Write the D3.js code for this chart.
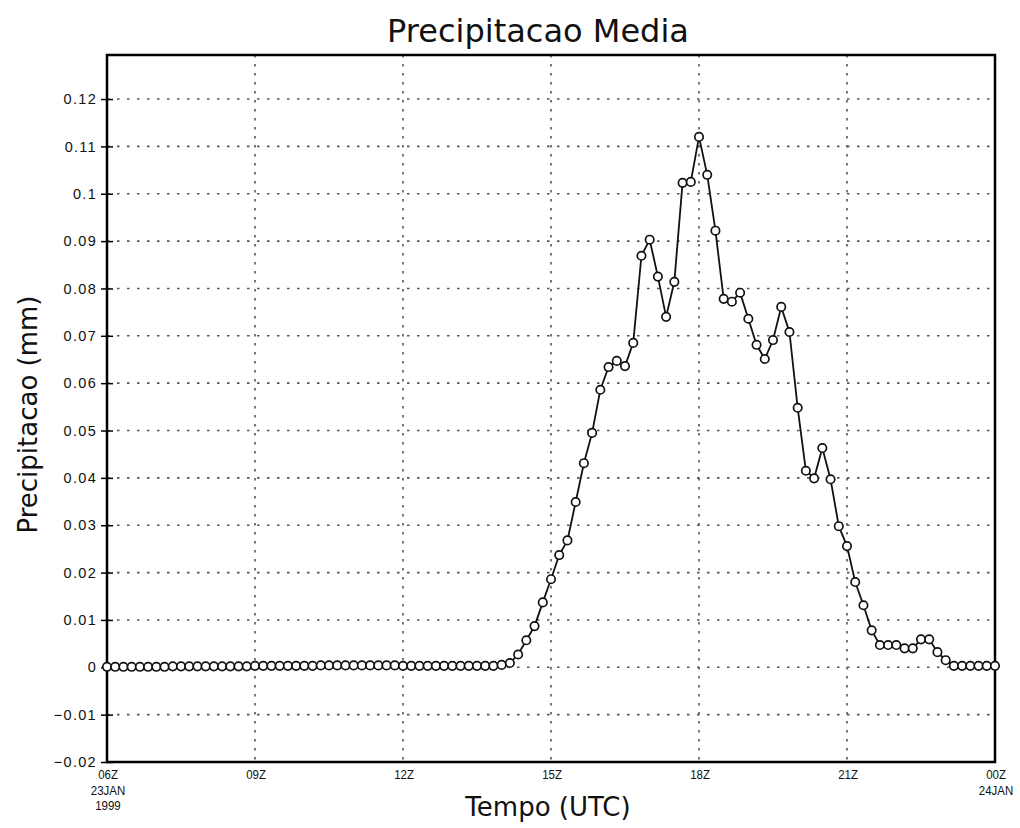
<!DOCTYPE html>
<html>
<head>
<meta charset="utf-8">
<script src="https://cdn.jsdelivr.net/npm/d3@7"></script>
<style>
  html, body { margin: 0; padding: 0; background: #fff; }
  svg { display: block; }
</style>
</head>
<body>
<svg id="chart" width="1020" height="828"></svg>
<script>
// ---- data ----
const startTime = "1999-01-23T06:00:00Z";
const endTime = "1999-01-24T00:00:00Z";
const stepMinutes = 10;
const precip = [
  0.0001, 0.0001, 0.0001, 0.0001, 0.0001, 0.0001, 0.0001, 0.0001, 0.0002, 0.0002,
  0.0002, 0.0002, 0.0002, 0.0002, 0.0002, 0.0002, 0.0002, 0.0002, 0.0003, 0.0003,
  0.0003, 0.0003, 0.0003, 0.0003, 0.0003, 0.0003, 0.0004, 0.0004, 0.0004, 0.0004,
  0.0004, 0.0004, 0.0004, 0.0004, 0.0004, 0.0004, 0.0003, 0.0003, 0.0003, 0.0003,
  0.0003, 0.0003, 0.0003, 0.0003, 0.0003, 0.0003, 0.0003, 0.0003, 0.0005, 0.0009,
  0.0027, 0.0057, 0.0087, 0.0137, 0.0186, 0.0237, 0.0268, 0.0349, 0.0431, 0.0495,
  0.0586, 0.0634, 0.0647, 0.0636, 0.0685, 0.0869, 0.0903, 0.0825, 0.0740, 0.0814,
  0.1023, 0.1025, 0.1120, 0.1040, 0.0922, 0.0778, 0.0772, 0.0791, 0.0736, 0.0681,
  0.0651, 0.0691, 0.0761, 0.0708, 0.0548, 0.0415, 0.0399, 0.0463, 0.0397, 0.0298,
  0.0256, 0.0180, 0.0131, 0.0078, 0.0047, 0.0047, 0.0047, 0.0040, 0.0040, 0.0059,
  0.0059, 0.0032, 0.0015, 0.0003, 0.0003, 0.0003, 0.0003, 0.0003, 0.0003
];
const yTicks = [-0.02, -0.01, 0, 0.01, 0.02, 0.03, 0.04, 0.05, 0.06, 0.07, 0.08, 0.09, 0.1, 0.11, 0.12];
const yTickLabels = ["\u22120.02", "\u22120.01", "0", "0.01", "0.02", "0.03", "0.04", "0.05", "0.06", "0.07", "0.08", "0.09", "0.1", "0.11", "0.12"];
const xTickTimes = ["1999-01-23T06:00:00Z", "1999-01-23T09:00:00Z", "1999-01-23T12:00:00Z",
                    "1999-01-23T15:00:00Z", "1999-01-23T18:00:00Z", "1999-01-23T21:00:00Z",
                    "1999-01-24T00:00:00Z"];
const xTickLabels = [["06Z", "23JAN", "1999"], ["09Z"], ["12Z"], ["15Z"], ["18Z"], ["21Z"], ["00Z", "24JAN"]];
const yDomainMax = 0.1293;
const titleText = "Precipitacao Media";
const xTitle = "Tempo (UTC)";
const yTitle = "Precipitacao (mm)";

// ---- layout ----
const pL = 107, pR = 995, pT = 55, pB = 762;
const svg = d3.select("#chart");
const t0 = new Date(startTime), t1 = new Date(endTime);
const times = d3.utcMinute.every(stepMinutes).range(t0, new Date(+t1 + 1));
const data = precip.map((v, i) => ({ t: times[i], v }));

const x = d3.scaleUtc().domain([t0, t1]).range([pL, pR]);
const y = d3.scaleLinear().domain([-0.02, yDomainMax]).range([pB, pT]);

const tickFont = "'Liberation Sans', Arial, sans-serif";

// grid
const grid = svg.append("g");
grid.selectAll("line.h").data(yTicks.filter(d => d > -0.02)).join("line")
  .attr("x1", pL).attr("x2", pR)
  .attr("y1", d => y(d)).attr("y2", d => y(d))
  .attr("stroke", "#555").attr("stroke-width", 1.6)
  .attr("stroke-dasharray", "2.5,7.5");
grid.selectAll("line.v").data(xTickTimes.slice(1, -1).map(s => new Date(s))).join("line")
  .attr("x1", d => x(d)).attr("x2", d => x(d))
  .attr("y1", pT).attr("y2", pB)
  .attr("stroke", "#555").attr("stroke-width", 1.6)
  .attr("stroke-dasharray", "2.5,6.5");

// y axis
const yAxis = d3.axisLeft(y).tickValues(yTicks)
  .tickFormat((d, i) => yTickLabels[i]).tickSizeInner(6).tickSizeOuter(0).tickPadding(4);
const yg = svg.append("g").attr("transform", `translate(${pL},0)`).call(yAxis);
yg.select(".domain").remove();
yg.selectAll(".tick line").attr("x1", 6).attr("x2", -6).attr("stroke", "#000").attr("stroke-width", 1.5);
yg.selectAll(".tick text").attr("x", -10).attr("font-family", tickFont)
  .attr("font-size", 14.5).attr("letter-spacing", 1.3).attr("fill", "#111");

// x axis labels (tall, condensed)
const xg = svg.append("g");
xTickTimes.forEach((s, i) => {
  const cx = x(new Date(s));
  const lab = xTickLabels[i];
  lab.forEach((txt, k) => {
    xg.append("text")
      .attr("transform", `translate(${cx + 1},${pB + 17 + k * 15.5}) scale(0.85,1)`)
      .attr("text-anchor", "middle")
      .attr("font-family", tickFont)
      .attr("font-size", 13.5).attr("fill", "#111")
      .text(txt);
  });
});

// plot border
svg.append("rect")
  .attr("x", pL).attr("y", pT)
  .attr("width", pR - pL).attr("height", pB - pT)
  .attr("fill", "none").attr("stroke", "#000").attr("stroke-width", 2.5);

// line
svg.append("path").datum(data)
  .attr("fill", "none").attr("stroke", "#111").attr("stroke-width", 1.8)
  .attr("d", d3.line().x(d => x(d.t)).y(d => y(d.v)));

// markers
svg.append("g").selectAll("circle").data(data).join("circle")
  .attr("cx", d => x(d.t)).attr("cy", d => y(d.v)).attr("r", 4.2)
  .attr("fill", "#fff").attr("stroke", "#111").attr("stroke-width", 1.7);

// titles
svg.append("text").attr("x", 538).attr("y", 42).attr("text-anchor", "middle")
  .attr("font-family", "'DejaVu Sans', sans-serif").attr("font-size", 32).attr("fill", "#111")
  .text(titleText);
svg.append("text").attr("x", 548).attr("y", 816).attr("text-anchor", "middle")
  .attr("font-family", "'DejaVu Sans', sans-serif").attr("font-size", 26).attr("fill", "#111")
  .text(xTitle);
svg.append("text").attr("transform", `translate(37,${(pT + pB) / 2 + 6}) rotate(-90)`)
  .attr("text-anchor", "middle")
  .attr("font-family", "'DejaVu Sans', sans-serif").attr("font-size", 26).attr("fill", "#111")
  .text(yTitle);
</script>
</body>
</html>
